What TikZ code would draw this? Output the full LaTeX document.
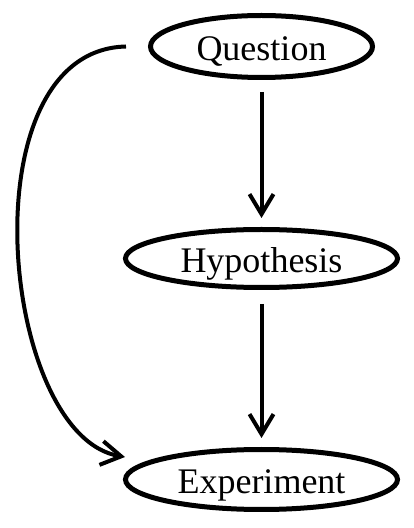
\documentclass[tikz,border=0pt]{standalone}
\usepackage{fontspec}
\setmainfont{Liberation Serif}
\usepackage{tikz}
\usetikzlibrary{shapes.geometric}
\usetikzlibrary{arrows.meta}

\begin{document}
\begin{tikzpicture}[%
    x=1pt, y=1pt,
    stage/.style={
      ellipse,
      draw=black,
      line width=5pt,
      inner sep=0pt,
      text height=28pt,
      text depth=0pt,
      font=\fontsize{36}{40}\selectfont
    },
    flow/.style={
      line width=4pt,
      ->
    },
    >={Straight Barb[length=20pt,width=24pt]}
    ]
    \useasboundingbox (0,0) rectangle (413,528);

    \draw (261.5,481.5) node[stage, minimum width=222pt, minimum height=62pt] (quest) {Question};
    \draw (261.5,269.5) node[stage, minimum width=272pt, minimum height=58pt] (hypo) {Hypothesis};
    \draw (261.5,48.5) node[stage, minimum width=272pt, minimum height=60pt] (expt) {Experiment};

    \draw [flow, shorten <=12pt, shorten >=9pt] (quest.south) -- (hypo.north);
    \draw [flow, shorten <=14pt, shorten >=9pt] (hypo.south) -- (expt.north);
    % loop straight from the question down to the experiment
    \draw [flow] ([xshift=-22pt]quest.west) .. controls (-35,478) and (0,92) .. ([xshift=2pt,yshift=22.5pt]expt.west);
  \end{tikzpicture}
\end{document}
